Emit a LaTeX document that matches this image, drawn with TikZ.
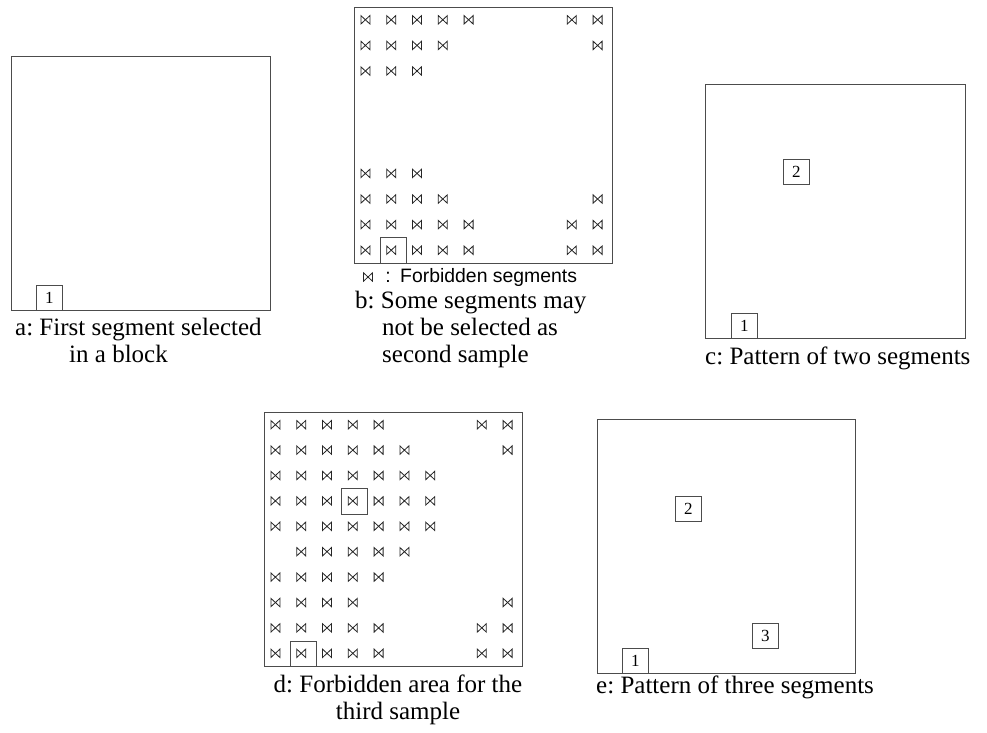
\documentclass[tikz,border=0pt]{standalone}
\usepackage{fontspec}
\setmainfont{Liberation Serif}
\newfontfamily\legendfont{Liberation Sans}
\frenchspacing
\tikzset{
  x=1pt, y=-1pt,
  panel/.style={draw=black!70, line width=0.8pt, minimum width=258pt, minimum height=254pt,
    anchor=north west, inner sep=0pt, outer sep=0pt},
  segbox/.style={draw=black!70, line width=0.7pt, minimum width=26pt, minimum height=25pt,
    inner sep=0pt, anchor=north west, font=\fontsize{17}{17}\selectfont},
  selcell/.style={draw=black!70, line width=0.7pt, inner sep=0pt, anchor=north west},
  caption/.style={inner sep=0pt, anchor=mid west, font=\fontsize{25}{27}\selectfont},
  legendtext/.style={inner sep=0pt, font=\legendfont\fontsize{19.4}{19.4}\selectfont},
  bowline/.style={draw=black!85, line width=0.8pt, line join=miter},
  bowtie/.pic={\draw[bowline] (-4.5,-4.2) -- (-4.5,4.2) -- (4.5,-4.2) -- (4.5,4.2) -- cycle;}
}
% one row of forbidden segments: x0, y0, cell width, cell height, row, columns
\newcommand\forbidrow[6]{%
  \foreach \c in {#6} \pic at ({#1+(\c+0.5)*#3-1.5},{#2+(#5+0.5)*#4}) {bowtie};}
\begin{document}
\begin{tikzpicture}
\useasboundingbox (0,0) rectangle (987,732);

% ---------- a: first segment ----------
\node[panel, minimum width=259pt] (pa) at (11,56) {};
\node[segbox] (a1) at (36,285) {1};
\node[caption] (capa1) at (15,333) {a: First segment selected};
\node[caption] (capa2) at (69,360) {in a block};

% ---------- b: forbidden segments for the second sample ----------
\node[panel, minimum height=256pt] (pb) at (354,7) {};
\forbidrow{354}{7}{25.8}{25.6}{0}{0,1,2,3,4,8,9}
\forbidrow{354}{7}{25.8}{25.6}{1}{0,1,2,3,9}
\forbidrow{354}{7}{25.8}{25.6}{2}{0,1,2}
\forbidrow{354}{7}{25.8}{25.6}{6}{0,1,2}
\forbidrow{354}{7}{25.8}{25.6}{7}{0,1,2,3,9}
\forbidrow{354}{7}{25.8}{25.6}{8}{0,1,2,3,4,8,9}
\forbidrow{354}{7}{25.8}{25.6}{9}{0,1,2,3,4,8,9}
\node[selcell, minimum width=25.8pt, minimum height=25.6pt] (b1) at (379.8,237.4) {};
\pic at (368,277) {bowtie};
\node[legendtext, anchor=mid] (legc) at (388,280) {:};
\node[legendtext, anchor=mid west] (leg) at (400,280) {Forbidden segments};
\node[caption] (capb1) at (355,306) {b: Some segments may};
\node[caption] (capb2) at (382,333) {not be selected as};
\node[caption] (capb3) at (382,360) {second sample};

% ---------- c: two segments ----------
\node[panel, minimum width=260pt] (pc) at (705,84) {};
\node[segbox] (c2) at (783,159) {2};
\node[segbox] (c1) at (731,313) {1};
\node[caption] (capc) at (705,362) {c: Pattern of two segments};

% ---------- d: forbidden area for the third sample ----------
\node[panel] (pd) at (264,412) {};
\forbidrow{264}{412}{25.8}{25.4}{0}{0,1,2,3,4,8,9}
\forbidrow{264}{412}{25.8}{25.4}{1}{0,1,2,3,4,5,9}
\forbidrow{264}{412}{25.8}{25.4}{2}{0,1,2,3,4,5,6}
\forbidrow{264}{412}{25.8}{25.4}{3}{0,1,2,3,4,5,6}
\forbidrow{264}{412}{25.8}{25.4}{4}{0,1,2,3,4,5,6}
\forbidrow{264}{412}{25.8}{25.4}{5}{1,2,3,4,5}
\forbidrow{264}{412}{25.8}{25.4}{6}{0,1,2,3,4}
\forbidrow{264}{412}{25.8}{25.4}{7}{0,1,2,3,9}
\forbidrow{264}{412}{25.8}{25.4}{8}{0,1,2,3,4,8,9}
\forbidrow{264}{412}{25.8}{25.4}{9}{0,1,2,3,4,8,9}
\node[selcell, minimum width=25.8pt, minimum height=25.4pt] (d2) at (341.4,488.2) {};
\node[selcell, minimum width=25.8pt, minimum height=25.4pt] (d1) at (289.8,640.6) {};
\node[caption, anchor=mid] (capd1) at (398,690) {d: Forbidden area for the};
\node[caption, anchor=mid] (capd2) at (398,717) {third sample};

% ---------- e: three segments ----------
\node[panel] (pe) at (597,419) {};
\node[segbox] (e2) at (675,496) {2};
\node[segbox] (e3) at (752,623) {3};
\node[segbox] (e1) at (622,648) {1};
\node[caption] (cape) at (596,691) {e: Pattern of three segments};
\end{tikzpicture}
\end{document}
